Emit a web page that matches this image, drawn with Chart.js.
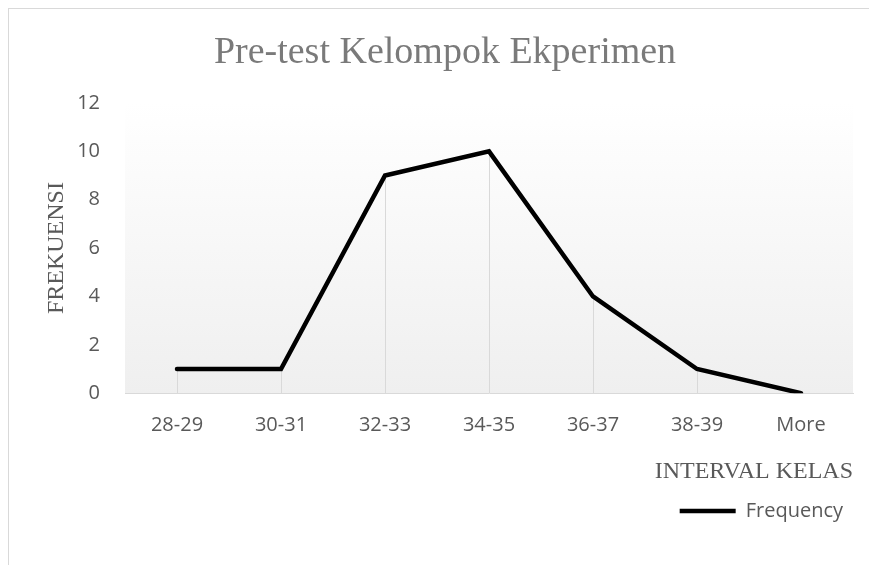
<!DOCTYPE html>
<html>
<head>
<meta charset="utf-8">
<script src="https://cdn.jsdelivr.net/npm/chart.js@4.4.1/dist/chart.umd.min.js"></script>
<style>
  html, body { margin: 0; padding: 0; background: #fff; overflow: hidden; }
  #wrap { position: relative; width: 869px; height: 565px; }
  #frame {
    position: absolute; left: 8px; top: 8px; width: 1000px; height: 700px;
    border-left: 1px solid #d9d9d9; border-top: 1px solid #d9d9d9;
  }
  canvas { position: absolute; left: 0; top: 0; }
</style>
</head>
<body>
<div id="wrap">
  <div id="frame"></div>
  <canvas id="chart" width="869" height="565"></canvas>
</div>
<script>
// Data
const intervals = ["28-29", "30-31", "32-33", "34-35", "36-37", "38-39", "More"];
const frequency = [1, 1, 9, 10, 4, 1, 0];

const chartTitle = "Pre-test Kelompok Ekperimen";
const yTitle = "FREKUENSI";
const xTitle = "INTERVAL KELAS";
const seriesName = "Frequency";

const serif = "'Liberation Serif', 'Times New Roman', serif";
const sans = "'Open Sans', 'Noto Sans', sans-serif";

// Light gradient behind the plot area
const plotBackground = {
  id: "plotBackground",
  beforeDraw(chart) {
    const { ctx, chartArea } = chart;
    const g = ctx.createLinearGradient(0, chartArea.top, 0, chartArea.bottom);
    g.addColorStop(0, "#ffffff");
    g.addColorStop(1, "#efefef");
    ctx.save();
    ctx.fillStyle = g;
    ctx.fillRect(chartArea.left, chartArea.top, chartArea.right - chartArea.left, chartArea.bottom - chartArea.top);
    ctx.restore();
  },
};

// Drop lines from each point down to the category axis
const dropLines = {
  id: "dropLines",
  beforeDatasetsDraw(chart) {
    const { ctx, chartArea } = chart;
    const meta = chart.getDatasetMeta(0);
    ctx.save();
    ctx.strokeStyle = "#d9d9d9";
    ctx.lineWidth = 1;
    meta.data.forEach((pt) => {
      const x = Math.round(pt.x) + 0.5;
      ctx.beginPath();
      ctx.moveTo(x, pt.y);
      ctx.lineTo(x, chartArea.bottom);
      ctx.stroke();
    });
    ctx.restore();
  },
};

// Title, centred like the original (not on the plot centre)
const titleText = {
  id: "titleText",
  afterDraw(chart) {
    const { ctx } = chart;
    ctx.save();
    ctx.font = "38px " + serif;
    ctx.fillStyle = "#7a7a7a";
    ctx.textAlign = "center";
    ctx.textBaseline = "alphabetic";
    ctx.fillText(chartTitle, 445, 63);
    ctx.restore();
  },
};

new Chart(document.getElementById("chart"), {
  type: "line",
  data: {
    labels: intervals,
    datasets: [
      {
        label: seriesName,
        data: frequency,
        borderColor: "#000000",
        backgroundColor: "#000000",
        borderWidth: 4.5,
        borderCapStyle: "round",
        borderJoinStyle: "miter",
        pointRadius: 0,
        tension: 0,
        fill: false,
      },
    ],
  },
  options: {
    responsive: false,
    animation: false,
    layout: { padding: { top: 103, right: 16, left: 0, bottom: 34 } },
    plugins: {
      title: { display: false },
      tooltip: { enabled: false },
      legend: {
        position: "bottom",
        align: "end",
        labels: {
          usePointStyle: true,
          pointStyle: "line",
          pointStyleWidth: 56,
          color: "#595959",
          font: { family: sans, size: 20 },
          padding: 10,
        },
      },
    },
    scales: {
      x: {
        offset: true,
        grid: { display: false, drawTicks: false },
        border: { display: true, color: "#d9d9d9", width: 1 },
        ticks: { color: "#595959", font: { family: sans, size: 20 }, padding: 20 },
        title: {
          display: true,
          text: xTitle,
          align: "end",
          color: "#595959",
          font: { family: serif, size: 24 },
          padding: { top: 0, bottom: 5 },
        },
      },
      y: {
        min: 0,
        max: 12,
        afterFit(scale) { scale.width = 125; },
        grid: { display: false, drawTicks: false },
        border: { display: false },
        ticks: { stepSize: 2, color: "#595959", font: { family: sans, size: 20 }, padding: 25 },
        title: {
          display: true,
          text: yTitle,
          color: "#595959",
          font: { family: serif, size: 24 },
          padding: { top: 42, bottom: 0 },
        },
      },
    },
  },
  plugins: [plotBackground, dropLines, titleText],
});
</script>
</body>
</html>
